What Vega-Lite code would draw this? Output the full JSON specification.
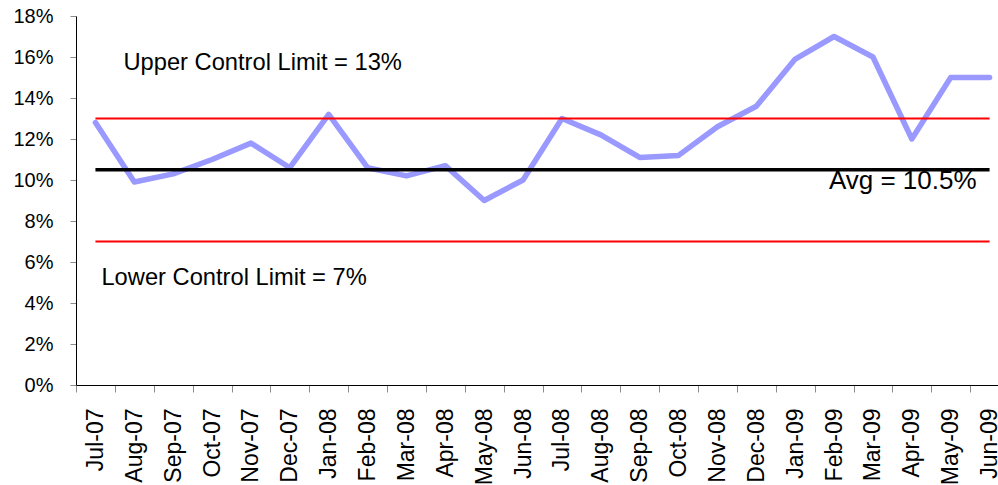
{
  "$schema": "https://vega.github.io/schema/vega-lite/v6.json",
  "autosize": "none",
  "width": 922,
  "height": 369,
  "padding": {"left": 76, "top": 16, "right": 0, "bottom": 100},
  "config": {
    "view": {"stroke": null},
    "font": "Liberation Sans",
    "axis": {"grid": false, "domainColor": "#000000", "domainWidth": 1, "tickColor": "#8c8c8c", "labelColor": "#000000", "title": null}
  },
  "data": {
    "values": [
      {"month": "Jul-07", "rate": 0.128},
      {"month": "Aug-07", "rate": 0.099},
      {"month": "Sep-07", "rate": 0.103},
      {"month": "Oct-07", "rate": 0.110},
      {"month": "Nov-07", "rate": 0.118},
      {"month": "Dec-07", "rate": 0.106},
      {"month": "Jan-08", "rate": 0.132},
      {"month": "Feb-08", "rate": 0.106},
      {"month": "Mar-08", "rate": 0.102},
      {"month": "Apr-08", "rate": 0.107},
      {"month": "May-08", "rate": 0.090},
      {"month": "Jun-08", "rate": 0.100},
      {"month": "Jul-08", "rate": 0.130},
      {"month": "Aug-08", "rate": 0.122},
      {"month": "Sep-08", "rate": 0.111},
      {"month": "Oct-08", "rate": 0.112},
      {"month": "Nov-08", "rate": 0.126},
      {"month": "Dec-08", "rate": 0.136},
      {"month": "Jan-09", "rate": 0.159},
      {"month": "Feb-09", "rate": 0.170},
      {"month": "Mar-09", "rate": 0.160},
      {"month": "Apr-09", "rate": 0.120},
      {"month": "May-09", "rate": 0.150},
      {"month": "Jun-09", "rate": 0.150}
    ]
  },
  "layer": [
    {
      "mark": {"type": "line", "color": "#9999ff", "strokeWidth": 5.5, "strokeJoin": "round", "strokeCap": "round"},
      "encoding": {
        "x": {
          "field": "month", "type": "ordinal", "sort": null,
          "scale": {"type": "band", "paddingInner": 0, "paddingOuter": 0, "range": [0, 933]},
          "axis": {"orient": "bottom", "tickBand": "extent", "tickSize": 7, "labelAngle": -90, "labelFontSize": 23, "labelPadding": 16, "labelBaseline": "middle", "labelAlign": "right"}
        },
        "y": {
          "field": "rate", "type": "quantitative",
          "scale": {"domain": [0, 0.18], "nice": false, "zero": true},
          "axis": {"values": [0, 0.02, 0.04, 0.06, 0.08, 0.1, 0.12, 0.14, 0.16, 0.18], "format": ".0%", "labelFontSize": 20, "tickSize": 6, "labelPadding": 17}
        }
      }
    },
    {
      "mark": {"type": "line", "color": "#ff0000", "strokeWidth": 2},
      "encoding": {
        "x": {"field": "month", "type": "ordinal", "sort": null},
        "y": {"datum": 0.13}
      }
    },
    {
      "mark": {"type": "line", "color": "#ff0000", "strokeWidth": 2},
      "encoding": {
        "x": {"field": "month", "type": "ordinal", "sort": null},
        "y": {"datum": 0.07}
      }
    },
    {
      "mark": {"type": "line", "color": "#000000", "strokeWidth": 3.5},
      "encoding": {
        "x": {"field": "month", "type": "ordinal", "sort": null},
        "y": {"datum": 0.105}
      }
    },
    {
      "data": {"values": [{"month": "Jul-07", "level": 0.13, "note": "Upper Control Limit = 13%"}]},
      "mark": {"type": "text", "align": "left", "baseline": "alphabetic", "dx": 28, "dy": -48.5, "fontSize": 23.7, "color": "#000000"},
      "encoding": {
        "x": {"field": "month", "type": "ordinal", "sort": null},
        "y": {"field": "level", "type": "quantitative"},
        "text": {"field": "note"}
      }
    },
    {
      "data": {"values": [{"month": "Jul-07", "level": 0.07, "note": "Lower Control Limit = 7%"}]},
      "mark": {"type": "text", "align": "left", "baseline": "alphabetic", "dx": 6, "dy": 43.5, "fontSize": 23.7, "color": "#000000"},
      "encoding": {
        "x": {"field": "month", "type": "ordinal", "sort": null},
        "y": {"field": "level", "type": "quantitative"},
        "text": {"field": "note"}
      }
    },
    {
      "data": {"values": [{"month": "Jun-09", "level": 0.105, "note": "Avg = 10.5%"}]},
      "mark": {"type": "text", "align": "right", "baseline": "alphabetic", "dx": -13, "dy": 19, "fontSize": 26, "color": "#000000"},
      "encoding": {
        "x": {"field": "month", "type": "ordinal", "sort": null},
        "y": {"field": "level", "type": "quantitative"},
        "text": {"field": "note"}
      }
    }
  ]
}
